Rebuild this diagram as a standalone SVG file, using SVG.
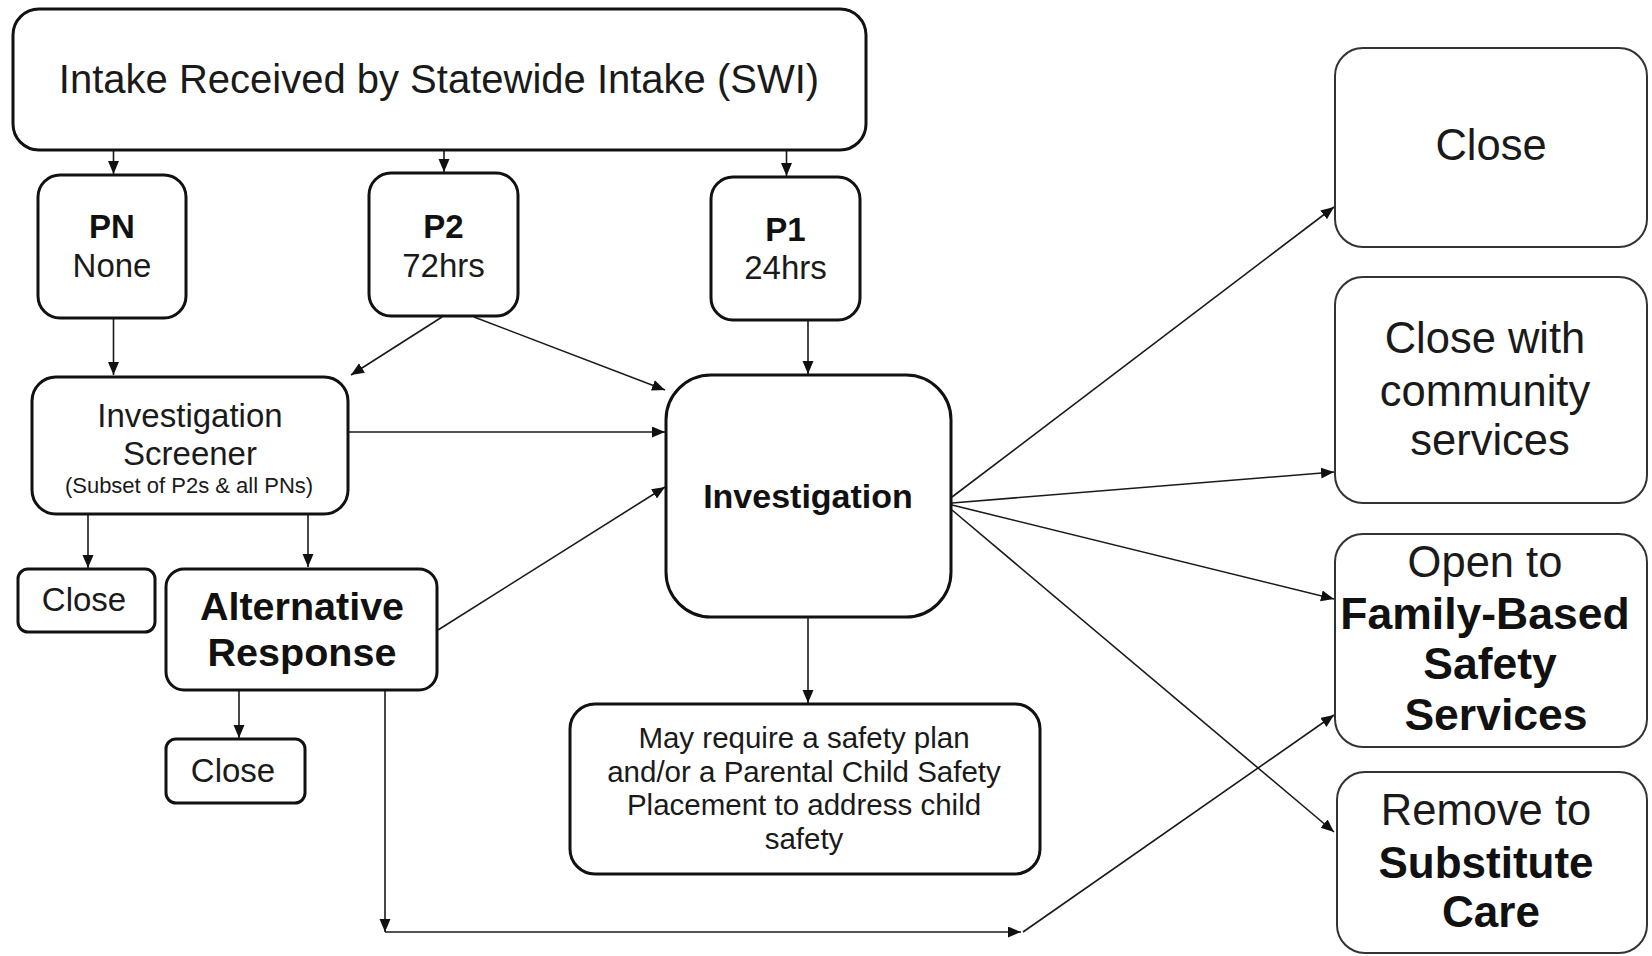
<svg xmlns="http://www.w3.org/2000/svg" width="1652" height="956" viewBox="0 0 1652 956">
<style>
.bg{fill:#ffffff}
.nb{fill:#ffffff;stroke:#111111;stroke-width:3}
.nr{fill:#ffffff;stroke:#333333;stroke-width:2}
.t{font-family:"Liberation Sans",Arial,sans-serif;fill:#1a1a1a;text-anchor:middle}
.b{font-weight:bold;fill:#111111}
.c{fill:none;stroke:#1a1a1a;stroke-width:1.6}
</style>
<defs>
<marker id="ah" markerUnits="userSpaceOnUse" markerWidth="14" markerHeight="12" refX="13" refY="5.5" orient="auto">
<path d="M0,0 L13,5.5 L0,11 z" fill="#111111"/>
</marker>
</defs>
<rect class="bg" x="0" y="0" width="1652" height="956"/>

<g id="connectors">
<line class="c" x1="113.5" y1="151" x2="113.5" y2="174" marker-end="url(#ah)"/>
<line class="c" x1="444" y1="151" x2="444" y2="172" marker-end="url(#ah)"/>
<line class="c" x1="786.5" y1="151" x2="786.5" y2="176" marker-end="url(#ah)"/>
<line class="c" x1="113.5" y1="319" x2="113.5" y2="375" marker-end="url(#ah)"/>
<line class="c" x1="442" y1="317" x2="351" y2="375" marker-end="url(#ah)"/>
<line class="c" x1="474" y1="317" x2="665" y2="390" marker-end="url(#ah)"/>
<line class="c" x1="808" y1="321" x2="808" y2="374" marker-end="url(#ah)"/>
<line class="c" x1="349" y1="432" x2="665" y2="432" marker-end="url(#ah)"/>
<line class="c" x1="88" y1="515" x2="88" y2="568" marker-end="url(#ah)"/>
<line class="c" x1="308" y1="515" x2="308" y2="567" marker-end="url(#ah)"/>
<line class="c" x1="438" y1="630" x2="665" y2="487" marker-end="url(#ah)"/>
<line class="c" x1="239" y1="684" x2="239" y2="738" marker-end="url(#ah)"/>
<line class="c" x1="385" y1="691" x2="385" y2="932" marker-end="url(#ah)"/>
<line class="c" x1="385" y1="932" x2="1021" y2="932" marker-end="url(#ah)"/>
<line class="c" x1="1023" y1="932" x2="1334" y2="715" marker-end="url(#ah)"/>
<line class="c" x1="952" y1="497" x2="1334" y2="207" marker-end="url(#ah)"/>
<line class="c" x1="952" y1="503" x2="1334" y2="472" marker-end="url(#ah)"/>
<line class="c" x1="952" y1="505" x2="1334" y2="599" marker-end="url(#ah)"/>
<line class="c" x1="952" y1="510" x2="1334" y2="832" marker-end="url(#ah)"/>
<line class="c" x1="808" y1="618" x2="808" y2="703" marker-end="url(#ah)"/>
</g>

<g id="intake">
<rect class="nb" x="13" y="9" width="853" height="141" rx="26"/>
<text class="t" x="439" y="93" font-size="40">Intake Received by Statewide Intake (SWI)</text>
</g>
<g id="pn">
<rect class="nb" x="38" y="175" width="148" height="143" rx="22"/>
<text class="t b" x="112" y="238" font-size="33">PN</text>
<text class="t" x="112" y="277" font-size="33">None</text>
</g>
<g id="p2">
<rect class="nb" x="369" y="173" width="149" height="143" rx="22"/>
<text class="t b" x="443.5" y="238" font-size="33">P2</text>
<text class="t" x="443.5" y="277" font-size="33">72hrs</text>
</g>
<g id="p1">
<rect class="nb" x="711" y="177" width="149" height="143" rx="22"/>
<text class="t b" x="785.5" y="240.5" font-size="33">P1</text>
<text class="t" x="785.5" y="278.5" font-size="33">24hrs</text>
</g>
<g id="screener">
<rect class="nb" x="32" y="377" width="316" height="137" rx="24"/>
<text class="t" x="190" y="427" font-size="33">Investigation</text>
<text class="t" x="190" y="465" font-size="33">Screener</text>
<text class="t" x="189" y="493" font-size="22">(Subset of P2s &amp; all PNs)</text>
</g>
<g id="close-screener">
<rect class="nb" x="18" y="569" width="137" height="63" rx="10"/>
<text class="t" x="84" y="611" font-size="33">Close</text>
</g>
<g id="alternative-response">
<rect class="nb" x="166" y="569" width="271" height="121" rx="18"/>
<text class="t b" x="302" y="619.5" font-size="39.5">Alternative</text>
<text class="t b" x="302" y="666" font-size="39.5">Response</text>
</g>
<g id="close-ar">
<rect class="nb" x="166" y="739" width="139" height="64" rx="10"/>
<text class="t" x="233" y="782" font-size="33">Close</text>
</g>
<g id="investigation">
<rect class="nb" x="666" y="375" width="285" height="242" rx="45"/>
<text class="t b" x="808" y="508" font-size="34">Investigation</text>
</g>
<g id="safety-plan">
<rect class="nb" x="570" y="704" width="470" height="170" rx="25"/>
<text class="t" x="804" y="748" font-size="29.5">May require a safety plan</text>
<text class="t" x="804" y="781.5" font-size="29.5">and/or a Parental Child Safety</text>
<text class="t" x="804" y="815" font-size="29.5">Placement to address child</text>
<text class="t" x="804" y="848.5" font-size="29.5">safety</text>
</g>
<g id="close-final">
<rect class="nr" x="1335" y="48" width="312" height="199" rx="28"/>
<text class="t" x="1491" y="160" font-size="43.5">Close</text>
</g>
<g id="close-community">
<rect class="nr" x="1335" y="277" width="312" height="226" rx="28"/>
<text class="t" x="1485" y="353" font-size="43.5">Close with</text>
<text class="t" x="1485" y="405.5" font-size="43.5">community</text>
<text class="t" x="1490" y="455" font-size="43.5">services</text>
</g>
<g id="open-fbss">
<rect class="nr" x="1335" y="534" width="312" height="213" rx="28"/>
<text class="t" x="1485" y="577" font-size="43.5">Open to</text>
<text class="t b" x="1485" y="629" font-size="44.5">Family-Based</text>
<text class="t b" x="1490" y="678.5" font-size="44.5">Safety</text>
<text class="t b" x="1496" y="730" font-size="44.5">Services</text>
</g>
<g id="remove-substitute">
<rect class="nr" x="1337" y="772" width="310" height="181" rx="28"/>
<text class="t" x="1486" y="825" font-size="43.5">Remove to</text>
<text class="t b" x="1486" y="877.5" font-size="44">Substitute</text>
<text class="t b" x="1491" y="927" font-size="44">Care</text>
</g>
</svg>
